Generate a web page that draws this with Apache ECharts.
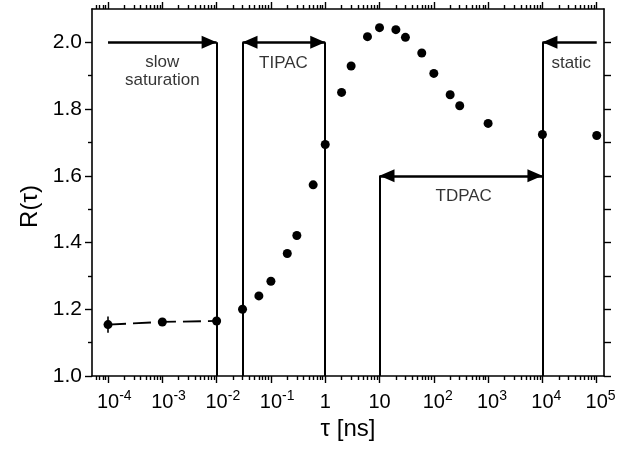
<!DOCTYPE html>
<html>
<head>
<meta charset="utf-8">
<script src="https://cdn.jsdelivr.net/npm/echarts@6/dist/echarts.min.js"></script>
<style>
html, body { margin: 0; padding: 0; background: #fff; }
#chart { width: 634px; height: 456px; }
</style>
</head>
<body>
<div id="chart"></div>
<script>
// measured points
var tau = [1e-4, 1e-3, 1e-2, 0.03, 0.06, 0.1, 0.2, 0.3, 0.6, 1, 2, 3, 6, 10, 20, 30, 60, 100, 200, 300, 1000, 1e4, 1e5];
var R = [1.154, 1.162, 1.165, 1.200, 1.240, 1.284, 1.367, 1.421, 1.573, 1.694, 1.850, 1.929, 2.017, 2.044, 2.038, 2.015, 1.968, 1.907, 1.843, 1.810, 1.757, 1.724, 1.721];
// error bar
var errTau = [1e-4];
var errR = [1.154];
var errSize = [0.024];
// dashed guide
var fitTau = [1e-4, 1e-3, 1e-2];
var fitR = [1.154, 1.162, 1.165];
// region borders
var borderTau = [1e-2, 0.03, 1, 10, 1e4];
var borderTop = [2.0, 2.0, 2.0, 1.6, 2.0];
// arrows
var arrowFrom = [1e-4, 1e5, 0.03, 10];
var arrowTo = [1e-2, 1e4, 1, 1e4];
var arrowR = [2.0, 2.0, 2.0, 1.6];
var arrowBoth = [false, false, true, true];
// texts
var noteText = ['slow\nsaturation', 'TIPAC', 'static', 'TDPAC'];
var noteTau = [1e-3, 0.17, 3.4e4, 355];
var noteR = [1.913, 1.937, 1.937, 1.539];
// axes
var xExp = [-4, -3, -2, -1, 0, 1, 2, 3, 4, 5];
var xBase = ['10', '10', '10', '10', '1', '10', '10', '10', '10', '10'];
var xSup = ['-4', '-3', '-2', '-1', '', '', '2', '3', '4', '5'];
var minorMult = [2, 3, 4, 5, 6, 7, 8, 9];
var yMajor = [1.0, 1.2, 1.4, 1.6, 1.8, 2.0];
var yMinor = [1.1, 1.3, 1.5, 1.7, 1.9];
var yRight = [1.0, 1.1, 1.2, 1.3, 1.4, 1.5, 1.6, 1.7, 1.8, 1.9, 2.0];

var XMIN = -4.295, XMAX = 5.134;
var lg = Math.log10;
var font = 'Liberation Sans, Arial, sans-serif';

var xMinor = [];
for (var n = -5; n <= 5; n++) {
	minorMult.forEach(function (k) {
		var v = lg(k) + n;
		if (v > XMIN && v < XMAX) xMinor.push(v);
	});
}

var black = '#000';
function xAxis(pos, ticks, len, labels) {
	return {
		type: 'value', position: pos, min: XMIN, max: XMAX,
		splitLine: { show: false },
		axisLine: { show: len > 5, onZero: false, lineStyle: { color: black, width: 1.6 } },
		axisTick: { customValues: ticks, length: len, lineStyle: { color: black, width: 1.4 } },
		axisLabel: labels ? {
			customValues: xExp,
			margin: 13,
			fontFamily: font,
			color: black,
			formatter: function (v) {
				var i = xExp.indexOf(Math.round(v));
				var s = xSup[i];
				if (!s) return '{b|' + xBase[i] + '}';
				return '{p|' + s + '}{b|' + xBase[i] + '}{s|' + s + '}';
			},
			rich: {
				b: { fontSize: 20, lineHeight: 26, fontFamily: font, color: black },
				s: { fontSize: 14, padding: [0, 0, 12, 0], fontFamily: font, color: black },
				p: { fontSize: 14, padding: [0, 0, 12, 0], fontFamily: font, color: 'rgba(0,0,0,0)' }
			}
		} : { show: false }
	};
}
function yAxis(pos, ticks, len, labels) {
	return {
		type: 'value', position: pos, min: 1.0, max: 2.1,
		splitLine: { show: false },
		axisLine: { show: len > 5, onZero: false, lineStyle: { color: black, width: 1.6 } },
		axisTick: { customValues: ticks, length: len, lineStyle: { color: black, width: 1.4 } },
		axisLabel: labels ? {
			customValues: ticks, margin: 10, fontSize: 21, fontFamily: font, color: black,
			formatter: function (v) { return v.toFixed(1); }
		} : { show: false }
	};
}

var xs = xAxis('bottom', xExp, 7, true);
xs.name = 'τ [ns]';
xs.nameLocation = 'middle';
xs.nameGap = 41;
xs.nameTextStyle = { fontSize: 24, fontFamily: font, color: black };
var ys = yAxis('left', yMajor, 7, true);
ys.name = 'R(τ)';
ys.nameLocation = 'middle';
ys.nameGap = 46;
ys.nameTextStyle = { fontSize: 24, fontFamily: font, color: black, padding: [0, 28, 0, 0] };

var points = tau.map(function (t, i) { return [lg(t), R[i]]; });
var fit = fitTau.map(function (t, i) { return [lg(t), fitR[i]]; });
var errs = errTau.map(function (t, i) {
	return { coords: [[lg(t), errR[i] - errSize[i]], [lg(t), errR[i] + errSize[i]]] };
});
var borders = borderTau.map(function (t, i) {
	return { coords: [[lg(t), 1.0], [lg(t), borderTop[i]]] };
});
var shafts = arrowFrom.map(function (f, i) {
	return { coords: [[lg(f), arrowR[i]], [lg(arrowTo[i]), arrowR[i]]] };
});
// arrow heads, split by pointing direction
var headsRight = [], headsLeft = [];
arrowFrom.forEach(function (f, i) {
	var t = arrowTo[i];
	(t > f ? headsRight : headsLeft).push([lg(t), arrowR[i]]);
	if (arrowBoth[i]) (t > f ? headsLeft : headsRight).push([lg(f), arrowR[i]]);
});
var notes = noteText.map(function (s, i) { return { value: [lg(noteTau[i]), noteR[i]], name: s }; });

function heads(data, rot, off) {
	return {
		type: 'scatter', data: data, silent: true, symbol: 'triangle',
		symbolSize: [13, 15], symbolRotate: rot, symbolOffset: [off, 0],
		itemStyle: { color: black, opacity: 1 }
	};
}

var chart = echarts.init(document.getElementById('chart'), null, { renderer: 'canvas' });
chart.setOption({
	animation: false,
	backgroundColor: '#fff',
	grid: { left: 92, right: 30, top: 9, bottom: 80, outerBoundsMode: 'none' },
	xAxis: [xs, xAxis('bottom', xMinor, 4, false), xAxis('top', xExp, 7, false), xAxis('top', xMinor, 4, false)],
	yAxis: [ys, yAxis('left', yMinor, 4, false), yAxis('right', yRight, 7, false)],
	series: [
		{
			type: 'lines', coordinateSystem: 'cartesian2d', silent: true,
			data: borders, symbol: 'none', lineStyle: { color: black, width: 2, opacity: 1 }
		},
		{
			type: 'lines', coordinateSystem: 'cartesian2d', silent: true,
			data: shafts, symbol: 'none', lineStyle: { color: black, width: 2.6, opacity: 1 }
		},
		heads(headsRight, -90, -7.5),
		heads(headsLeft, 90, 7.5),
		{
			type: 'lines', coordinateSystem: 'cartesian2d', silent: true,
			data: errs, symbol: 'none', lineStyle: { color: black, width: 1.6, opacity: 1 }
		},
		{
			type: 'line', data: fit, symbol: 'none', silent: true,
			lineStyle: { color: black, width: 1.8, type: [18, 7] }
		},
		{
			type: 'scatter', data: points, symbol: 'circle', symbolSize: 9,
			itemStyle: { color: black, opacity: 1 }
		},
		{
			type: 'scatter', data: notes, symbolSize: 0, silent: true,
			label: {
				show: true, position: 'inside', formatter: '{b}',
				fontSize: 17, lineHeight: 17.5, fontFamily: font, color: black
			}
		}
	]
});
</script>
</body>
</html>
